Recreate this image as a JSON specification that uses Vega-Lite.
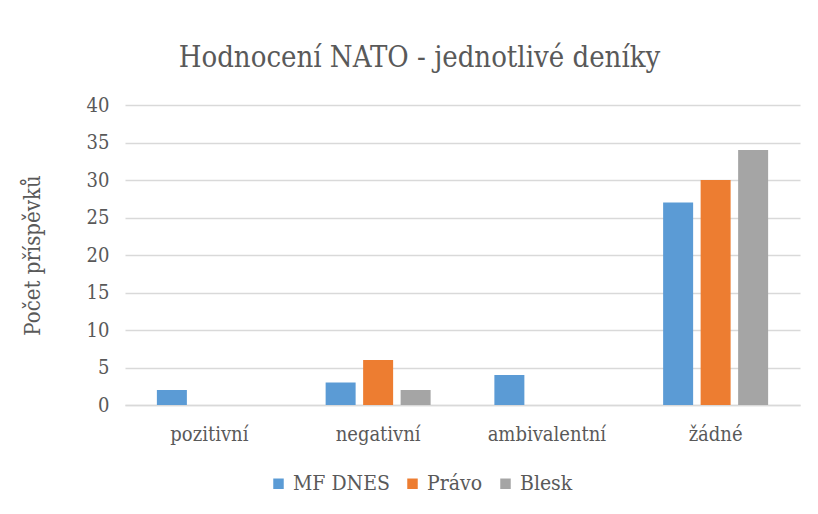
{
  "$schema": "https://vega.github.io/schema/vega-lite/v6.json",
  "width": 675,
  "height": 300,
  "autosize": {"type": "none"},
  "padding": {"left": 125, "top": 105, "right": 18, "bottom": 109},
  "background": "white",
  "title": {
    "text": "Hodnocení NATO - jednotlivé deníky",
    "font": "DejaVu Serif Condensed",
    "fontSize": 29,
    "fontWeight": "normal",
    "color": "#595959",
    "anchor": "middle",
    "dx": -43,
    "offset": 22
  },
  "data": {
    "values": [
      {"kategorie": "pozitivní", "denik": "MF DNES", "pocet": 2},
      {"kategorie": "pozitivní", "denik": "Právo", "pocet": 0},
      {"kategorie": "pozitivní", "denik": "Blesk", "pocet": 0},
      {"kategorie": "negativní", "denik": "MF DNES", "pocet": 3},
      {"kategorie": "negativní", "denik": "Právo", "pocet": 6},
      {"kategorie": "negativní", "denik": "Blesk", "pocet": 2},
      {"kategorie": "ambivalentní", "denik": "MF DNES", "pocet": 4},
      {"kategorie": "ambivalentní", "denik": "Právo", "pocet": 0},
      {"kategorie": "ambivalentní", "denik": "Blesk", "pocet": 0},
      {"kategorie": "žádné", "denik": "MF DNES", "pocet": 27},
      {"kategorie": "žádné", "denik": "Právo", "pocet": 30},
      {"kategorie": "žádné", "denik": "Blesk", "pocet": 34}
    ]
  },
  "mark": {"type": "bar"},
  "encoding": {
    "x": {
      "field": "kategorie",
      "type": "nominal",
      "sort": ["pozitivní", "negativní", "ambivalentní", "žádné"],
      "scale": {"paddingInner": 0, "paddingOuter": 0},
      "axis": {
        "title": null,
        "labelAngle": 0,
        "labelFont": "DejaVu Serif Condensed",
        "labelFontSize": 20,
        "labelColor": "#595959",
        "labelPadding": 19,
        "ticks": false,
        "domainColor": "#d9d9d9",
        "domainWidth": 1.5
      }
    },
    "xOffset": {
      "field": "denik",
      "type": "nominal",
      "sort": ["MF DNES", "Právo", "Blesk"],
      "scale": {"paddingInner": 0.2, "paddingOuter": 0.85}
    },
    "y": {
      "field": "pocet",
      "type": "quantitative",
      "scale": {"domain": [0, 40]},
      "axis": {
        "title": "Počet příspěvků",
        "titleFont": "DejaVu Serif Condensed",
        "titleFontSize": 22,
        "titleFontWeight": "normal",
        "titleColor": "#595959",
        "titlePadding": 42,
        "values": [0, 5, 10, 15, 20, 25, 30, 35, 40],
        "labelFont": "DejaVu Serif Condensed",
        "labelFontSize": 20,
        "labelColor": "#595959",
        "labelPadding": 16,
        "ticks": false,
        "domain": false,
        "gridColor": "#d9d9d9",
        "gridWidth": 1.5
      }
    },
    "color": {
      "field": "denik",
      "type": "nominal",
      "sort": ["MF DNES", "Právo", "Blesk"],
      "scale": {"domain": ["MF DNES", "Právo", "Blesk"], "range": ["#5b9bd5", "#ed7d31", "#a5a5a5"]},
      "legend": {
        "title": null,
        "orient": "none",
        "direction": "horizontal",
        "legendX": 143,
        "legendY": 368,
        "symbolType": "square",
        "symbolSize": 110,
        "symbolStrokeWidth": 0,
        "labelFont": "DejaVu Serif Condensed",
        "labelFontSize": 21,
        "labelColor": "#595959",
        "labelOffset": 4,
        "columnPadding": 12
      }
    }
  },
  "config": {"view": {"stroke": null}}
}
